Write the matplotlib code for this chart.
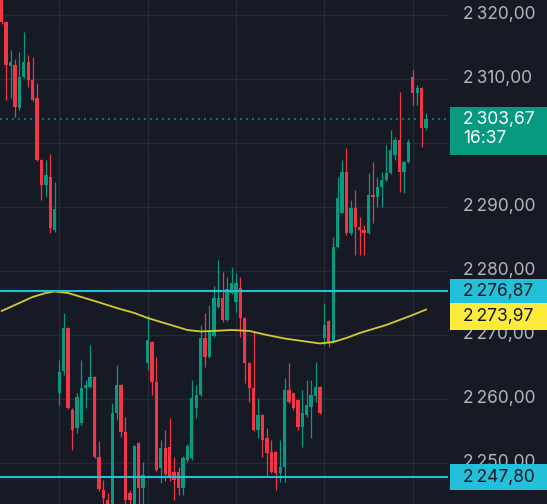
import matplotlib
matplotlib.use("Agg")
import matplotlib.pyplot as plt
from matplotlib.patches import Rectangle
from matplotlib.transforms import blended_transform_factory

##candle data (open, high, low, close), one entry per bar
opens = [2323.5, 2318.95, 2312.03, 2312.19, 2305.47, 2310.31, 2312.66, 2309.84, 2307.03, 2297.34,
         2293.44, 2294.69, 2286.41, 2260.94, 2264.38, 2271.09, 2258.28, 2255.47, 2256.25, 2261.72,
         2261.88, 2263.44, 2250.94, 2245.78, 2244.22, 2242.5, 2257.81, 2262.19, 2254.84, 2245.31,
         2242.5, 2253.13, 2246.09, 2265.63, 2268.91, 2262.66, 2249.22, 2252.34, 2252.5, 2248.59,
         2248.59, 2246.09, 2250.47, 2250.78, 2258.59, 2260.63, 2269.53, 2266.56, 2269.84, 2274.38,
         2275.78, 2272.34, 2276.56, 2275.16, 2277.34, 2272.66, 2265.63, 2261.72, 2255.16, 2257.5,
         2253.91, 2251.72, 2251.72, 2248.44, 2249.38, 2261.41, 2260.94, 2259.84, 2255.63, 2257.5,
         2258.75, 2260.47, 2261.88, 2269.53, 2272.19, 2268.91, 2283.75, 2289.06, 2295.47, 2285.94,
         2289.84, 2286.88, 2286.41, 2285.94, 2291.88, 2291.56, 2293.13, 2294.22, 2295.31, 2298.13,
         2300.47, 2295.47, 2297.03, 2310.31, 2307.81, 2308.59, 2302.34]
highs = [2324.0, 2319.0, 2314.53, 2313.13, 2314.22, 2317.34, 2313.75, 2313.44, 2309.38, 2297.5,
         2297.34, 2298.28, 2293.91, 2266.09, 2273.44, 2271.3, 2258.59, 2260.94, 2266.09, 2262.97,
         2268.44, 2263.6, 2253.44, 2247.34, 2245.31, 2259.38, 2265.31, 2262.4, 2257.19, 2245.78,
         2252.8, 2253.3, 2250.16, 2273.13, 2269.0, 2266.56, 2253.59, 2255.16, 2257.03, 2250.94,
         2249.38, 2251.09, 2252.97, 2262.97, 2262.19, 2271.56, 2273.44, 2274.69, 2277.66, 2281.72,
         2279.84, 2279.0, 2280.63, 2279.69, 2279.06, 2272.8, 2265.78, 2270.47, 2260.16, 2257.6,
         2255.47, 2253.59, 2251.9, 2253.59, 2263.28, 2265.63, 2261.0, 2260.0, 2261.41, 2262.97,
         2262.97, 2265.78, 2262.0, 2275.0, 2272.34, 2285.31, 2294.69, 2297.34, 2299.22, 2291.09,
         2292.66, 2288.44, 2287.2, 2295.31, 2297.03, 2294.69, 2295.47, 2299.69, 2302.03, 2300.9,
         2307.97, 2297.2, 2300.6, 2311.41, 2309.06, 2308.7, 2304.69]
lows = [2318.6, 2306.72, 2307.03, 2304.06, 2305.16, 2310.16, 2308.75, 2306.5, 2297.2, 2291.09,
        2291.56, 2285.94, 2286.09, 2259.06, 2263.75, 2258.4, 2252.03, 2254.69, 2256.0, 2258.59,
        2261.7, 2250.8, 2245.63, 2243.44, 2242.0, 2242.0, 2256.72, 2254.06, 2242.5, 2243.0,
        2242.0, 2243.2, 2243.3, 2264.53, 2260.63, 2248.8, 2246.88, 2247.19, 2247.19, 2244.22,
        2245.0, 2245.0, 2250.16, 2250.47, 2257.03, 2260.5, 2265.0, 2266.4, 2269.7, 2274.22,
        2272.03, 2272.2, 2276.4, 2273.59, 2269.69, 2262.5, 2259.53, 2255.0, 2253.91, 2250.94,
        2248.13, 2248.5, 2245.78, 2247.03, 2247.03, 2259.38, 2258.28, 2255.16, 2252.5, 2257.19,
        2253.91, 2259.53, 2257.7, 2268.44, 2268.13, 2268.8, 2283.6, 2289.0, 2285.63, 2285.63,
        2282.5, 2282.5, 2282.5, 2285.8, 2287.5, 2290.0, 2290.0, 2294.1, 2295.2, 2297.34,
        2292.34, 2292.19, 2296.9, 2305.94, 2305.94, 2299.38, 2302.03]
closes = [2318.95, 2312.19, 2312.6, 2305.63, 2310.31, 2312.66, 2309.84, 2306.72, 2297.34, 2293.44,
          2295.0, 2286.72, 2289.69, 2264.22, 2271.09, 2258.59, 2255.16, 2260.31, 2261.72, 2262.19,
          2263.44, 2250.94, 2245.94, 2244.53, 2242.5, 2257.81, 2262.19, 2254.84, 2244.22, 2244.22,
          2252.66, 2246.09, 2248.13, 2269.22, 2262.66, 2248.91, 2252.34, 2248.28, 2247.66, 2247.34,
          2246.09, 2250.78, 2252.66, 2260.16, 2260.63, 2269.53, 2266.56, 2270.78, 2275.78, 2275.78,
          2272.34, 2277.2, 2278.13, 2278.13, 2272.66, 2265.63, 2261.72, 2255.16, 2257.5, 2253.59,
          2251.56, 2248.59, 2248.44, 2249.38, 2261.41, 2259.53, 2258.59, 2255.63, 2257.81, 2259.06,
          2260.63, 2261.88, 2257.81, 2271.56, 2268.91, 2283.75, 2291.41, 2295.47, 2285.94, 2289.84,
          2286.88, 2286.41, 2285.94, 2291.88, 2291.56, 2293.13, 2294.22, 2295.31, 2298.91, 2300.47,
          2295.47, 2297.03, 2300.16, 2307.81, 2308.59, 2302.34, 2303.67]

##moving average, read at a handful of bars
ma_idx = [0, 4, 7, 10, 12, 15, 18, 22, 26, 30, 33, 36, 39, 42, 45, 48, 52, 56, 60, 64,
          68, 72, 75, 78, 81, 84, 87, 90, 93, 96]
ma_val = [2273.75, 2275.0, 2275.94, 2276.56, 2276.8, 2276.56, 2275.94, 2275.1, 2274.22, 2273.44,
          2272.66, 2272.03, 2271.41, 2270.78, 2270.55, 2270.63, 2270.78, 2270.63, 2270.0, 2269.45,
          2269.06, 2268.67, 2268.9, 2269.53, 2270.31, 2270.94, 2271.56, 2272.34, 2273.13, 2273.97]

levels = [2276.87, 2247.80]
last_price = 2303.67
ma_last = 2273.97
countdown = "16:37"
ticks = [2320, 2310, 2300, 2290, 2280, 2270, 2260, 2250]
tick_labels = [2320, 2310, 2290, 2280, 2270, 2260, 2250]  # 2300 sits under the price tag
grid_idx = [13, 33, 53, 73, 93]

bg = "#161a25"
gridc = "#262a36"
up = "#089981"
down = "#f23645"
cyan = "#22c1d9"
yellow = "#fdeb3c"
txt = "#b2b5be"

plt.rcParams['font.family'] = ['Inter', 'DejaVu Sans']

def fmt(v):
    s = f"{v:,.2f}"
    return s.replace(",", " ").replace(".", ",").replace(" ", "\u2009")

fig = plt.figure(figsize=(5.47, 5.04), dpi=100, facecolor=bg)
ax = fig.add_axes([0, 0, 448 / 547, 1])
ax.set_facecolor(bg)
for s in ax.spines.values():
    s.set_visible(False)
ax.set_xticks([])
ax.set_yticks([])
ax.set_xlim(-0.385, 100.97)
ax.set_ylim(2243.59, 2322.34)

##grid
for t in ticks:
    ax.axhline(t, color=gridc, lw=1, zorder=0)
for g in grid_idx:
    ax.axvline(g, color=gridc, lw=1, zorder=0)

##candles
for i in range(len(opens)):
    o, h, l, c = opens[i], highs[i], lows[i], closes[i]
    col = up if c >= o else down
    ax.vlines(i, l, h, color=col, lw=0.9, zorder=2)
    ax.bar(i, max(abs(c - o), 0.15), bottom=min(o, c), width=0.75, color=col, zorder=3, linewidth=0)

##moving average and levels
ax.plot(ma_idx, ma_val, color="#d8c832", lw=1.3, zorder=4)
for lv in levels:
    ax.axhline(lv, color=cyan, lw=1.5, zorder=4)
ax.axhline(last_price, color=up, lw=1.2, linestyle=(0, (1, 2.6)), zorder=4)

##right price scale
tr = blended_transform_factory(fig.transFigure, ax.transData)
lx = 463 / 547
bx = 450 / 547
for t in tick_labels:
    ax.text(lx, t, fmt(t), transform=tr, color=txt, fontsize=12.5, va="center", ha="left",
            clip_on=False, zorder=5)

def box(top, bottom, color):
    ax.add_patch(Rectangle((bx, bottom), 1 - bx, top - bottom, transform=tr, facecolor=color,
                           edgecolor="none", clip_on=False, zorder=6))

box(last_price + 1.95, last_price - 5.55, up)
ax.text(lx, last_price, fmt(last_price), transform=tr, color="white", fontsize=12.5,
        va="center", ha="left", clip_on=False, zorder=7)
ax.text(lx, last_price - 3.0, countdown, transform=tr, color="white", fontsize=12.5,
        va="center", ha="left", clip_on=False, zorder=7)

box(levels[0] + 1.95, levels[0] - 1.95, cyan)
ax.text(lx, levels[0], fmt(levels[0]), transform=tr, color="#131722", fontsize=12.5,
        va="center", ha="left", clip_on=False, zorder=7)
ytop = levels[0] - 1.95
box(ytop, ytop - 4.2, yellow)
ax.text(lx, ytop - 2.1, fmt(ma_last), transform=tr, color="#131722", fontsize=12.5,
        va="center", ha="left", clip_on=False, zorder=7)

box(levels[1] + 2.0, levels[1] - 2.0, cyan)
ax.text(lx, levels[1], fmt(levels[1]), transform=tr, color="#131722", fontsize=12.5,
        va="center", ha="left", clip_on=False, zorder=7)

fig.savefig("out.png", dpi=100, facecolor=bg)
